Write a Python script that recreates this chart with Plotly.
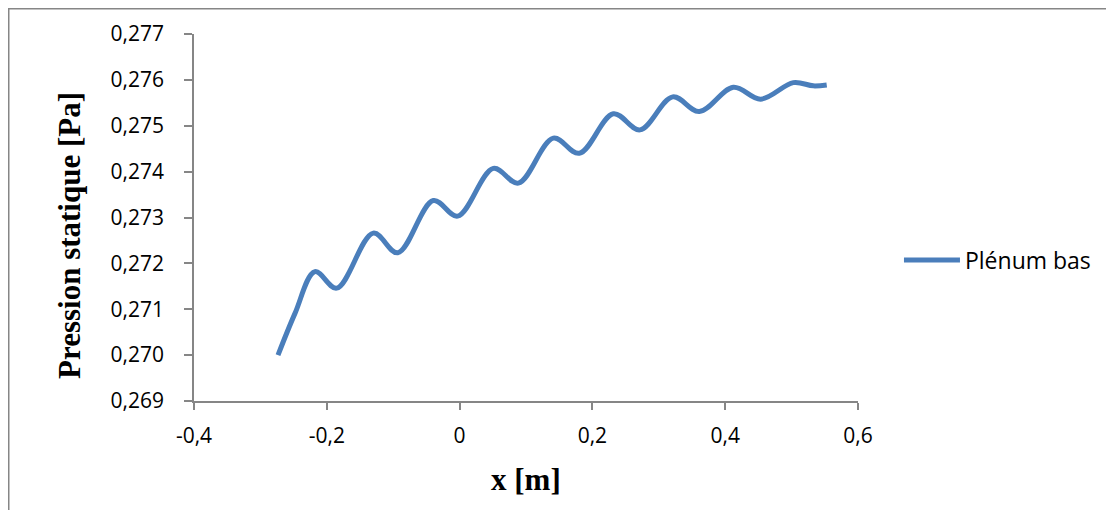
import plotly.graph_objects as go

x_vals = [-0.2735, -0.2479, -0.2178, -0.1851, -0.1300, -0.0932, -0.0396, -0.0029,
          0.0508, 0.0885, 0.1411, 0.1803, 0.2315, 0.2717, 0.3209, 0.3610,
          0.4122, 0.4534, 0.5026, 0.5327, 0.5529]
p_vals = [0.27000, 0.27091, 0.27182, 0.27146, 0.27266, 0.27223, 0.27337, 0.27303,
          0.27407, 0.27375, 0.27473, 0.27440, 0.27526, 0.27491, 0.27563, 0.27531,
          0.27584, 0.27558, 0.27594, 0.27587, 0.27589]

x_ticks = [-0.4, -0.2, 0, 0.2, 0.4, 0.6]
x_labels = ["-0,4", "-0,2", "0", "0,2", "0,4", "0,6"]
y_ticks = [0.269, 0.270, 0.271, 0.272, 0.273, 0.274, 0.275, 0.276, 0.277]
y_labels = ["0,269", "0,270", "0,271", "0,272", "0,273", "0,274", "0,275", "0,276", "0,277"]

W, H = 1106, 502
L, R, T, B = 186, 850, 26, 393

fig = go.Figure()
fig.add_trace(go.Scatter(
    x=x_vals, y=p_vals, mode="lines", name="Plénum bas",
    line=dict(color="#4a7ebb", width=5, shape="spline", smoothing=1.0),
))

axis_color = "#868686"
tick_font = dict(family="Open Sans, Liberation Sans, sans-serif", size=21, color="#000000")
legend_font = dict(family="Open Sans, Liberation Sans, sans-serif", size=23, color="#000000")
fig.update_layout(
    width=W, height=H,
    margin=dict(l=L, r=W - R, t=T, b=H - B, pad=0),
    paper_bgcolor="white", plot_bgcolor="white",
    font=tick_font,
    showlegend=True,
    legend=dict(x=1.0617, y=0.384, xanchor="left", yanchor="middle",
                font=legend_font, bgcolor="rgba(0,0,0,0)", itemwidth=56),
    xaxis=dict(
        range=[-0.4, 0.6], tickvals=x_ticks, ticktext=x_labels,
        showgrid=False, zeroline=False, showline=True, linecolor=axis_color, linewidth=1.5,
        ticks="outside", ticklen=7, tickcolor=axis_color, tickwidth=1.5,
        tickfont=tick_font, ticklabelstandoff=8,
    ),
    yaxis=dict(
        range=[0.269, 0.277], tickvals=y_ticks, ticktext=y_labels,
        showgrid=False, zeroline=False, showline=True, linecolor=axis_color, linewidth=1.5,
        ticks="outside", ticklen=8, tickcolor=axis_color, tickwidth=1.5,
        tickfont=tick_font, ticklabelstandoff=16,
    ),
)

pw, ph = R - L, B - T
def px(xp):
    return (xp - L) / pw
def py(yp):
    return (B - yp) / ph

title_font = dict(family="Liberation Serif, Times New Roman, serif", size=31, color="#000000")
fig.add_annotation(text="<b>x [m]</b>", xref="paper", yref="paper",
                   x=px(518), y=py(471), xanchor="center", yanchor="middle",
                   showarrow=False, font=title_font)
fig.add_annotation(text="<b>Pression statique [Pa]</b>", xref="paper", yref="paper",
                   x=px(61), y=py(228), xanchor="center", yanchor="middle",
                   textangle=-90, showarrow=False, font=title_font)

fig.add_shape(type="line", xref="paper", yref="paper",
              x0=px(0), x1=px(1105), y0=py(0.5), y1=py(0.5),
              line=dict(color=axis_color, width=2))
fig.add_shape(type="line", xref="paper", yref="paper",
              x0=px(0.5), x1=px(0.5), y0=py(0), y1=py(505),
              line=dict(color=axis_color, width=2))

fig.write_html("out.html")
